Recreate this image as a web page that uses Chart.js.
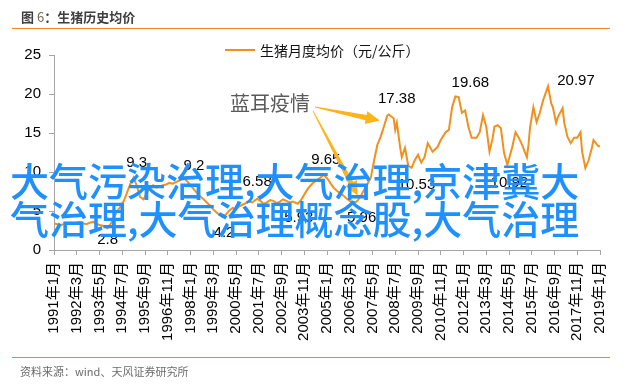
<!DOCTYPE html>
<html>
<head>
<meta charset="utf-8">
<script src="https://cdn.jsdelivr.net/npm/chart.js@4/dist/chart.umd.min.js"></script>
<style>
  html, body { margin:0; padding:0; background:#fff; }
  #wrap { position:relative; width:640px; height:386px; overflow:hidden; font-family:"Liberation Sans","Noto Sans CJK SC",sans-serif; }
  #c { position:absolute; left:0; top:0; }
  .abs { position:absolute; white-space:nowrap; }
  #title { left:21px; top:8px; font:bold 13px "Noto Sans CJK SC",sans-serif; color:#3f3f3f; line-height:18px; }
  #title .n { font-weight:normal; color:#7a6a55; }
  .rule { position:absolute; left:12px; width:598px; height:0; border-top:1.5px solid #F0882A; }
  #src { left:20px; top:363px; font:11px "Noto Sans CJK SC",sans-serif; color:#6b6b6b; line-height:16px; }
  #legline { position:absolute; left:225px; top:49px; width:30px; height:0; border-top:2px solid #F0901E; }
  #legtxt { left:260px; top:40px; font:14px "Noto Sans CJK SC",sans-serif; color:#111; line-height:20px; }
  #note { left:230px; top:91px; font:20px "Noto Sans CJK SC",sans-serif; color:#5a5a5a; line-height:24px; }
  .wm { left:10px; font:500 39px "Noto Sans CJK SC",sans-serif; color:#1E90FF; line-height:39px; }
</style>
</head>
<body>
<div id="wrap">
  <canvas id="c" width="640" height="386"></canvas>
  <div class="abs" id="title">图 <span class="n">6</span>：生猪历史均价</div>
  <div class="rule" style="top:28px"></div>
  <div class="rule" style="top:357px"></div>
  <div class="abs" id="src">资料来源：wind、天风证券研究所</div>
  <div id="legline"></div>
  <div class="abs" id="legtxt">生猪月度均价（元/公斤）</div>
  <div class="abs" id="note">蓝耳疫情</div>
  <div class="abs wm" style="top:160px">大气污染治理,大气治理,京津冀大</div>
  <div class="abs wm" style="top:198px">气治理,大气治理概念股,大气治理</div>
</div>
<script>
// month index counted from 1991年1月
const months = [0,2,4,6,8,10,12,14,16,18,20,22,24,26,28,30,33,35,37,39,41,43,45,47,49,51,53,55,57,59,61,63,65,67,69,71,73,75,77,80,82,84,86,88,90,92,94,96,98,100,102,104,106,108,110,112,114,116,118,120,122,125,127,129,131,133,135,137,139,141,143,145,147,150,152,154,156,158,160,162,164,166,168,170,172,174,176,178,180,182,185,187,189,191,193,195,197,199,201,203,205,206,209,210,211,213,214,216,218,220,222,224,226,228,230,233,236,238,241,243,245,247,249,251,253,255,257,260,262,264,266,268,270,271,273,275,277,279,282,284,286,288,291,292,293,295,297,299,301,304,306,307,309,310,313,314,316,318,320,322,324,325,327,329,331,332,335,336];
const prices = [3.4,3.3,3.2,3.3,3.5,3.4,3.3,3.5,3.6,3.4,3.3,3.5,3.6,3.4,3.2,3.1,2.8,3.4,4.2,5.0,5.6,6.3,7.4,8.5,9.3,8.2,6.8,6.5,7.2,8.0,8.3,8.0,8.1,8.3,8.4,8.6,8.5,8.7,8.9,9.2,8.8,8.3,7.8,7.3,6.9,6.5,6.1,5.7,5.2,4.8,4.5,4.2,4.6,5.1,5.4,5.2,5.6,5.8,6.0,6.2,6.1,6.58,6.3,5.9,6.1,6.4,6.3,6.0,6.2,6.5,6.3,6.1,6.2,5.93,6.4,7.1,7.8,8.3,8.7,9.0,9.3,9.65,9.2,8.6,8.0,7.6,7.3,7.0,6.6,6.3,5.96,6.4,7.0,7.8,8.5,9.3,11.5,13.5,14.5,15.8,17.2,17.38,16.9,15.4,16.3,13.2,11.9,13.1,10.8,10.53,11.5,12.2,11.2,11.9,13.7,12.6,13.2,14.1,15.1,15.4,18.3,19.68,19.6,17.6,17.9,15.8,14.4,14.4,15.1,17.3,15.8,12.6,14.4,15.8,16.0,15.6,12.4,10.92,13.2,15.1,14.4,13.5,11.9,13.5,15.8,18.3,16.4,17.6,19.2,20.97,18.8,18.3,16.3,17.0,18.2,16.3,14.5,13.7,14.4,14.4,15.1,12.6,10.5,11.5,13.1,14.1,13.3,13.3];
const xTickLabels = ["1991年1月","1992年3月","1993年5月","1994年7月","1995年9月","1996年11月","1998年1月","1999年3月","2000年5月","2001年7月","2002年9月","2003年11月","2005年1月","2006年3月","2007年5月","2008年7月","2009年9月","2010年11月","2012年1月","2013年3月","2014年5月","2015年7月","2016年9月","2017年11月","2019年1月"];
const yTicks = [0,5,10,15,20,25];
const seriesName = "生猪月度均价（元/公斤）";
// labelled extremes: month index, text
const markMonths = [33,49,80,104,125,150,166,185,206,220,247,279,304];
const markTexts  = ["2.8","9.3","9.2","4.2","6.58","5.93","9.65","5.96","17.38","10.53","19.68","10.92","20.97"];

// layout of the labels (offsets in px relative to the point)
const markOffsets = [[0,12],[3,-15],[10,-12],[1,16],[0,-17],[1,14],[2,-15],[7,14],[8,-16],[5,17],[15,-14],[2,18],[28,-6]];

const ORANGE = '#F0901E';
const ARROW = '#FFB31A';

function drawArrow(ctx, x0, y0, x1, y1) {
  const dx = x1 - x0, dy = y1 - y0;
  const len = Math.hypot(dx, dy);
  const ux = dx / len, uy = dy / len, nx = -uy, ny = ux;
  const headLen = 14, headW = 6.5, bodyW = 2.6, tailW = 0.4;
  const bx = x1 - ux * headLen, by = y1 - uy * headLen;
  ctx.beginPath();
  ctx.moveTo(x0 + nx * tailW, y0 + ny * tailW);
  ctx.lineTo(bx + nx * bodyW, by + ny * bodyW);
  ctx.lineTo(bx + nx * headW, by + ny * headW);
  ctx.lineTo(x1, y1);
  ctx.lineTo(bx - nx * headW, by - ny * headW);
  ctx.lineTo(bx - nx * bodyW, by - ny * bodyW);
  ctx.lineTo(x0 - nx * tailW, y0 - ny * tailW);
  ctx.closePath();
  ctx.fillStyle = ARROW;
  ctx.fill();
}

const overlay = {
  id: 'overlay',
  afterDatasetsDraw(chart) {
    const ctx = chart.ctx, xs = chart.scales.x, ys = chart.scales.y;
    ctx.save();
    ctx.font = '15px "Liberation Sans", Arial, sans-serif';
    ctx.fillStyle = '#000';
    ctx.textAlign = 'center';
    ctx.textBaseline = 'middle';
    markMonths.forEach((m, i) => {
      const v = prices[months.indexOf(m)];
      const px = xs.getPixelForValue(m), py = ys.getPixelForValue(v);
      ctx.fillText(markTexts[i], px + markOffsets[i][0], py + markOffsets[i][1]);
    });
    // arrows from the note 蓝耳疫情
    const pPeak = [xs.getPixelForValue(206), ys.getPixelForValue(17.38)];
    const pLow = [xs.getPixelForValue(185), ys.getPixelForValue(5.96)];
    drawArrow(ctx, 315, 107, pPeak[0] - 9, pPeak[1] + 6);
    drawArrow(ctx, 313, 111, pLow[0] + 3, pLow[1] - 8);
    ctx.restore();
  }
};

new Chart(document.getElementById('c'), {
  type: 'line',
  data: {
    datasets: [{
      label: seriesName,
      data: months.map((m, i) => ({ x: m, y: prices[i] })),
      borderColor: ORANGE,
      borderWidth: 2,
      pointRadius: 0,
      tension: 0,
      fill: false
    }]
  },
  options: {
    responsive: false,
    animation: false,
    layout: { padding: { top: 55, right: 40, left: 0, bottom: 0 } },
    plugins: { legend: { display: false }, tooltip: { enabled: false } },
    scales: {
      x: {
        type: 'linear', min: 0, max: 336,
        afterFit(s) { s.height = 136; },
        afterBuildTicks(s) { s.ticks = xTickLabels.map((_, i) => ({ value: i * 14 })); },
        grid: { display: true, drawOnChartArea: false, drawTicks: true, tickLength: 5, color: '#a6a6a6' },
        border: { display: true, color: '#a6a6a6', width: 1 },
        ticks: {
          autoSkip: false, minRotation: 90, maxRotation: 90, padding: 7,
          color: '#000', font: { size: 15, family: '"Liberation Sans", Arial, "Noto Sans CJK SC", sans-serif' },
          callback: (v) => xTickLabels[Math.round(v / 14)]
        }
      },
      y: {
        min: 0, max: 25,
        afterFit(s) { s.width = 54; },
        afterBuildTicks(s) { s.ticks = yTicks.map(v => ({ value: v })); },
        grid: { display: true, drawOnChartArea: false, drawTicks: true, tickLength: 5, color: '#a6a6a6' },
        border: { display: true, color: '#a6a6a6', width: 1 },
        ticks: { padding: 8, color: '#000', font: { size: 15, family: '"Liberation Sans", Arial, sans-serif' } }
      }
    }
  },
  plugins: [overlay]
});
</script>
</body>
</html>
